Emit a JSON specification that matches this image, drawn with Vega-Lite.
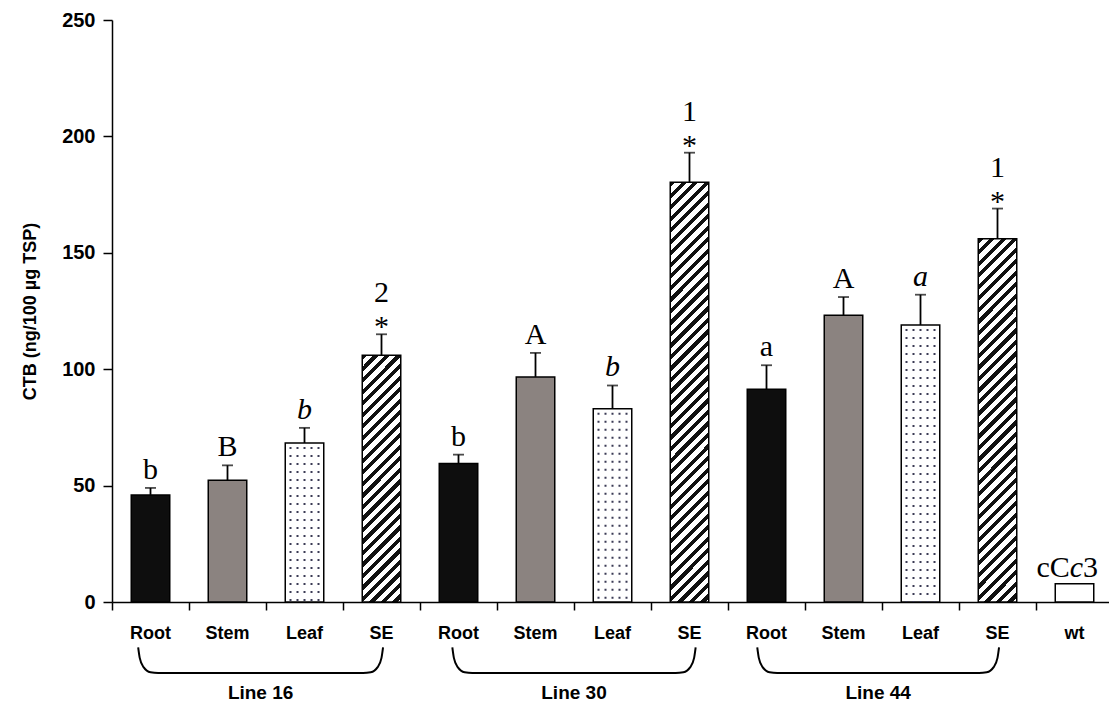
{
  "$schema": "https://vega.github.io/schema/vega-lite/v6.json",
  "width": 1001,
  "height": 582,
  "autosize": {"type": "none"},
  "padding": {"left": 112, "top": 20, "right": 0, "bottom": 103},
  "background": "white",
  "config": {
    "view": {"stroke": null},
    "font": "Liberation Sans",
    "axis": {
      "domainColor": "black", "domainWidth": 1.5,
      "tickColor": "black", "tickWidth": 1.5,
      "labelColor": "black", "labelFont": "Liberation Sans", "labelFontWeight": "bold",
      "titleColor": "black", "titleFont": "Liberation Sans", "titleFontWeight": "bold",
      "grid": false
    }
  },
  "datasets": {
    "bars": [
      {"key": "Root 16", "organ": "Root", "line": "Line 16", "value": 46, "upper": 49, "lab": "b"},
      {"key": "Stem 16", "organ": "Stem", "line": "Line 16", "value": 52.3, "upper": 58.7, "lab": "B"},
      {"key": "Leaf 16", "organ": "Leaf", "line": "Line 16", "value": 68.3, "upper": 74.8, "lab": "b"},
      {"key": "SE 16", "organ": "SE", "line": "Line 16", "value": 106, "upper": 115, "lab": "2"},
      {"key": "Root 30", "organ": "Root", "line": "Line 30", "value": 59.5, "upper": 63.3, "lab": "b"},
      {"key": "Stem 30", "organ": "Stem", "line": "Line 30", "value": 96.7, "upper": 107, "lab": "A"},
      {"key": "Leaf 30", "organ": "Leaf", "line": "Line 30", "value": 83, "upper": 93, "lab": "b"},
      {"key": "SE 30", "organ": "SE", "line": "Line 30", "value": 180.3, "upper": 193, "lab": "1"},
      {"key": "Root 44", "organ": "Root", "line": "Line 44", "value": 91.4, "upper": 101.7, "lab": "a"},
      {"key": "Stem 44", "organ": "Stem", "line": "Line 44", "value": 123.2, "upper": 131, "lab": "A"},
      {"key": "Leaf 44", "organ": "Leaf", "line": "Line 44", "value": 119, "upper": 132, "lab": "a"},
      {"key": "SE 44", "organ": "SE", "line": "Line 44", "value": 156, "upper": 169, "lab": "1"},
      {"key": "wt", "organ": "wt", "line": "wt", "value": 7.8, "upper": 7.8, "lab": "cCc3"}
    ],
    "brackets": [
      {"grp": "Line 16", "pos": 0.34, "value": -19.5},
      {"grp": "Line 16", "pos": 0.36, "value": -24},
      {"grp": "Line 16", "pos": 0.41, "value": -28},
      {"grp": "Line 16", "pos": 0.50, "value": -30.2},
      {"grp": "Line 16", "pos": 0.60, "value": -30.5},
      {"grp": "Line 16", "pos": 3.26, "value": -30.5},
      {"grp": "Line 16", "pos": 3.36, "value": -30.2},
      {"grp": "Line 16", "pos": 3.45, "value": -28},
      {"grp": "Line 16", "pos": 3.50, "value": -24},
      {"grp": "Line 16", "pos": 3.52, "value": -19.5},
      {"grp": "Line 30", "pos": 4.42, "value": -19.5},
      {"grp": "Line 30", "pos": 4.44, "value": -24},
      {"grp": "Line 30", "pos": 4.49, "value": -28},
      {"grp": "Line 30", "pos": 4.58, "value": -30.2},
      {"grp": "Line 30", "pos": 4.68, "value": -30.5},
      {"grp": "Line 30", "pos": 7.32, "value": -30.5},
      {"grp": "Line 30", "pos": 7.42, "value": -30.2},
      {"grp": "Line 30", "pos": 7.51, "value": -28},
      {"grp": "Line 30", "pos": 7.56, "value": -24},
      {"grp": "Line 30", "pos": 7.58, "value": -19.5},
      {"grp": "Line 44", "pos": 8.38, "value": -19.5},
      {"grp": "Line 44", "pos": 8.40, "value": -24},
      {"grp": "Line 44", "pos": 8.45, "value": -28},
      {"grp": "Line 44", "pos": 8.54, "value": -30.2},
      {"grp": "Line 44", "pos": 8.64, "value": -30.5},
      {"grp": "Line 44", "pos": 11.26, "value": -30.5},
      {"grp": "Line 44", "pos": 11.36, "value": -30.2},
      {"grp": "Line 44", "pos": 11.45, "value": -28},
      {"grp": "Line 44", "pos": 11.50, "value": -24},
      {"grp": "Line 44", "pos": 11.52, "value": -19.5}
    ],
    "groups": [
      {"grp": "Line 16", "pos": 1.93},
      {"grp": "Line 30", "pos": 6.0},
      {"grp": "Line 44", "pos": 9.95}
    ]
  },
  "layer": [
    {
      "data": {"name": "bars"},
      "encoding": {
        "x": {
          "field": "key", "type": "nominal", "sort": null,
          "scale": {
            "domain": ["Root 16", "Stem 16", "Leaf 16", "SE 16", "Root 30", "Stem 30", "Leaf 30", "SE 30", "Root 44", "Stem 44", "Leaf 44", "SE 44", "wt"],
            "paddingInner": 0, "paddingOuter": 0
          },
          "axis": {
            "title": null, "labelAngle": 0, "labelExpr": "split(datum.label, ' ')[0]",
            "bandPosition": 0, "tickSize": 8, "labelPadding": 14, "labelFontSize": 18
          }
        },
        "y": {
          "field": "value", "type": "quantitative", "title": "CTB (ng/100 µg TSP)",
          "scale": {"domain": [0, 250], "nice": false},
          "axis": {
            "values": [0, 50, 100, 150, 200, 250], "tickSize": 9, "labelPadding": 8,
            "labelFontSize": 20, "titleFontSize": 18, "titlePadding": 22
          }
        }
      },
      "layer": [
        {
          "transform": [{"filter": "datum.organ != 'SE'"}],
          "mark": {"type": "bar", "width": {"band": 0.5}, "stroke": "black", "strokeWidth": 1.5},
          "encoding": {
            "fill": {
              "field": "organ", "type": "nominal", "legend": null,
              "scale": {"domain": ["Root", "Stem", "Leaf", "wt"], "range": ["#0e0e0e", "#8b8380", "#ffffff", "#ffffff"]}
            }
          }
        },
        {
          "transform": [{"filter": "datum.key == 'SE 16'"}],
          "mark": {
            "type": "bar", "width": {"band": 0.5}, "stroke": "black", "strokeWidth": 1.5,
            "fill": {
              "gradient": "linear", "x1": 0, "y1": 0, "x2": 0.285, "y2": 1.823,
              "stops": [
                {"offset":0,"color":"#111"},{"offset":0.0115,"color":"#111"},{"offset":0.0115,"color":"#fff"},{"offset":0.025,"color":"#fff"},
                {"offset":0.025,"color":"#111"},{"offset":0.0365,"color":"#111"},{"offset":0.0365,"color":"#fff"},{"offset":0.05,"color":"#fff"},
                {"offset":0.05,"color":"#111"},{"offset":0.0615,"color":"#111"},{"offset":0.0615,"color":"#fff"},{"offset":0.075,"color":"#fff"},
                {"offset":0.075,"color":"#111"},{"offset":0.0865,"color":"#111"},{"offset":0.0865,"color":"#fff"},{"offset":0.1,"color":"#fff"},
                {"offset":0.1,"color":"#111"},{"offset":0.1115,"color":"#111"},{"offset":0.1115,"color":"#fff"},{"offset":0.125,"color":"#fff"},
                {"offset":0.125,"color":"#111"},{"offset":0.1365,"color":"#111"},{"offset":0.1365,"color":"#fff"},{"offset":0.15,"color":"#fff"},
                {"offset":0.15,"color":"#111"},{"offset":0.1615,"color":"#111"},{"offset":0.1615,"color":"#fff"},{"offset":0.175,"color":"#fff"},
                {"offset":0.175,"color":"#111"},{"offset":0.1865,"color":"#111"},{"offset":0.1865,"color":"#fff"},{"offset":0.2,"color":"#fff"},
                {"offset":0.2,"color":"#111"},{"offset":0.2115,"color":"#111"},{"offset":0.2115,"color":"#fff"},{"offset":0.225,"color":"#fff"},
                {"offset":0.225,"color":"#111"},{"offset":0.2365,"color":"#111"},{"offset":0.2365,"color":"#fff"},{"offset":0.25,"color":"#fff"},
                {"offset":0.25,"color":"#111"},{"offset":0.2615,"color":"#111"},{"offset":0.2615,"color":"#fff"},{"offset":0.275,"color":"#fff"},
                {"offset":0.275,"color":"#111"},{"offset":0.2865,"color":"#111"},{"offset":0.2865,"color":"#fff"},{"offset":0.3,"color":"#fff"},
                {"offset":0.3,"color":"#111"},{"offset":0.3115,"color":"#111"},{"offset":0.3115,"color":"#fff"},{"offset":0.325,"color":"#fff"},
                {"offset":0.325,"color":"#111"},{"offset":0.3365,"color":"#111"},{"offset":0.3365,"color":"#fff"},{"offset":0.35,"color":"#fff"},
                {"offset":0.35,"color":"#111"},{"offset":0.3615,"color":"#111"},{"offset":0.3615,"color":"#fff"},{"offset":0.375,"color":"#fff"},
                {"offset":0.375,"color":"#111"},{"offset":0.3865,"color":"#111"},{"offset":0.3865,"color":"#fff"},{"offset":0.4,"color":"#fff"},
                {"offset":0.4,"color":"#111"},{"offset":0.4115,"color":"#111"},{"offset":0.4115,"color":"#fff"},{"offset":0.425,"color":"#fff"},
                {"offset":0.425,"color":"#111"},{"offset":0.4365,"color":"#111"},{"offset":0.4365,"color":"#fff"},{"offset":0.45,"color":"#fff"},
                {"offset":0.45,"color":"#111"},{"offset":0.4615,"color":"#111"},{"offset":0.4615,"color":"#fff"},{"offset":0.475,"color":"#fff"},
                {"offset":0.475,"color":"#111"},{"offset":0.4865,"color":"#111"},{"offset":0.4865,"color":"#fff"},{"offset":0.5,"color":"#fff"},
                {"offset":0.5,"color":"#111"},{"offset":0.5115,"color":"#111"},{"offset":0.5115,"color":"#fff"},{"offset":0.525,"color":"#fff"},
                {"offset":0.525,"color":"#111"},{"offset":0.5365,"color":"#111"},{"offset":0.5365,"color":"#fff"},{"offset":0.55,"color":"#fff"},
                {"offset":0.55,"color":"#111"},{"offset":0.5615,"color":"#111"},{"offset":0.5615,"color":"#fff"},{"offset":0.575,"color":"#fff"},
                {"offset":0.575,"color":"#111"},{"offset":0.5865,"color":"#111"},{"offset":0.5865,"color":"#fff"},{"offset":0.6,"color":"#fff"},
                {"offset":0.6,"color":"#111"},{"offset":0.6115,"color":"#111"},{"offset":0.6115,"color":"#fff"},{"offset":0.625,"color":"#fff"},
                {"offset":0.625,"color":"#111"},{"offset":0.6365,"color":"#111"},{"offset":0.6365,"color":"#fff"},{"offset":0.65,"color":"#fff"}
              ]
            }
          }
        },
        {
          "transform": [{"filter": "datum.key == 'SE 30'"}],
          "mark": {
            "type": "bar", "width": {"band": 0.5}, "stroke": "black", "strokeWidth": 1.5,
            "fill": {
              "gradient": "linear", "x1": 0, "y1": 0, "x2": 0.1, "y2": 1.0887,
              "stops": [
                {"offset":0,"color":"#111"},{"offset":0.0115,"color":"#111"},{"offset":0.0115,"color":"#fff"},{"offset":0.025,"color":"#fff"},
                {"offset":0.025,"color":"#111"},{"offset":0.0365,"color":"#111"},{"offset":0.0365,"color":"#fff"},{"offset":0.05,"color":"#fff"},
                {"offset":0.05,"color":"#111"},{"offset":0.0615,"color":"#111"},{"offset":0.0615,"color":"#fff"},{"offset":0.075,"color":"#fff"},
                {"offset":0.075,"color":"#111"},{"offset":0.0865,"color":"#111"},{"offset":0.0865,"color":"#fff"},{"offset":0.1,"color":"#fff"},
                {"offset":0.1,"color":"#111"},{"offset":0.1115,"color":"#111"},{"offset":0.1115,"color":"#fff"},{"offset":0.125,"color":"#fff"},
                {"offset":0.125,"color":"#111"},{"offset":0.1365,"color":"#111"},{"offset":0.1365,"color":"#fff"},{"offset":0.15,"color":"#fff"},
                {"offset":0.15,"color":"#111"},{"offset":0.1615,"color":"#111"},{"offset":0.1615,"color":"#fff"},{"offset":0.175,"color":"#fff"},
                {"offset":0.175,"color":"#111"},{"offset":0.1865,"color":"#111"},{"offset":0.1865,"color":"#fff"},{"offset":0.2,"color":"#fff"},
                {"offset":0.2,"color":"#111"},{"offset":0.2115,"color":"#111"},{"offset":0.2115,"color":"#fff"},{"offset":0.225,"color":"#fff"},
                {"offset":0.225,"color":"#111"},{"offset":0.2365,"color":"#111"},{"offset":0.2365,"color":"#fff"},{"offset":0.25,"color":"#fff"},
                {"offset":0.25,"color":"#111"},{"offset":0.2615,"color":"#111"},{"offset":0.2615,"color":"#fff"},{"offset":0.275,"color":"#fff"},
                {"offset":0.275,"color":"#111"},{"offset":0.2865,"color":"#111"},{"offset":0.2865,"color":"#fff"},{"offset":0.3,"color":"#fff"},
                {"offset":0.3,"color":"#111"},{"offset":0.3115,"color":"#111"},{"offset":0.3115,"color":"#fff"},{"offset":0.325,"color":"#fff"},
                {"offset":0.325,"color":"#111"},{"offset":0.3365,"color":"#111"},{"offset":0.3365,"color":"#fff"},{"offset":0.35,"color":"#fff"},
                {"offset":0.35,"color":"#111"},{"offset":0.3615,"color":"#111"},{"offset":0.3615,"color":"#fff"},{"offset":0.375,"color":"#fff"},
                {"offset":0.375,"color":"#111"},{"offset":0.3865,"color":"#111"},{"offset":0.3865,"color":"#fff"},{"offset":0.4,"color":"#fff"},
                {"offset":0.4,"color":"#111"},{"offset":0.4115,"color":"#111"},{"offset":0.4115,"color":"#fff"},{"offset":0.425,"color":"#fff"},
                {"offset":0.425,"color":"#111"},{"offset":0.4365,"color":"#111"},{"offset":0.4365,"color":"#fff"},{"offset":0.45,"color":"#fff"},
                {"offset":0.45,"color":"#111"},{"offset":0.4615,"color":"#111"},{"offset":0.4615,"color":"#fff"},{"offset":0.475,"color":"#fff"},
                {"offset":0.475,"color":"#111"},{"offset":0.4865,"color":"#111"},{"offset":0.4865,"color":"#fff"},{"offset":0.5,"color":"#fff"},
                {"offset":0.5,"color":"#111"},{"offset":0.5115,"color":"#111"},{"offset":0.5115,"color":"#fff"},{"offset":0.525,"color":"#fff"},
                {"offset":0.525,"color":"#111"},{"offset":0.5365,"color":"#111"},{"offset":0.5365,"color":"#fff"},{"offset":0.55,"color":"#fff"},
                {"offset":0.55,"color":"#111"},{"offset":0.5615,"color":"#111"},{"offset":0.5615,"color":"#fff"},{"offset":0.575,"color":"#fff"},
                {"offset":0.575,"color":"#111"},{"offset":0.5865,"color":"#111"},{"offset":0.5865,"color":"#fff"},{"offset":0.6,"color":"#fff"},
                {"offset":0.6,"color":"#111"},{"offset":0.6115,"color":"#111"},{"offset":0.6115,"color":"#fff"},{"offset":0.625,"color":"#fff"},
                {"offset":0.625,"color":"#111"},{"offset":0.6365,"color":"#111"},{"offset":0.6365,"color":"#fff"},{"offset":0.65,"color":"#fff"},
                {"offset":0.65,"color":"#111"},{"offset":0.6615,"color":"#111"},{"offset":0.6615,"color":"#fff"},{"offset":0.675,"color":"#fff"},
                {"offset":0.675,"color":"#111"},{"offset":0.6865,"color":"#111"},{"offset":0.6865,"color":"#fff"},{"offset":0.7,"color":"#fff"},
                {"offset":0.7,"color":"#111"},{"offset":0.7115,"color":"#111"},{"offset":0.7115,"color":"#fff"},{"offset":0.725,"color":"#fff"},
                {"offset":0.725,"color":"#111"},{"offset":0.7365,"color":"#111"},{"offset":0.7365,"color":"#fff"},{"offset":0.75,"color":"#fff"},
                {"offset":0.75,"color":"#111"},{"offset":0.7615,"color":"#111"},{"offset":0.7615,"color":"#fff"},{"offset":0.775,"color":"#fff"},
                {"offset":0.775,"color":"#111"},{"offset":0.7865,"color":"#111"},{"offset":0.7865,"color":"#fff"},{"offset":0.8,"color":"#fff"},
                {"offset":0.8,"color":"#111"},{"offset":0.8115,"color":"#111"},{"offset":0.8115,"color":"#fff"},{"offset":0.825,"color":"#fff"},
                {"offset":0.825,"color":"#111"},{"offset":0.8365,"color":"#111"},{"offset":0.8365,"color":"#fff"},{"offset":0.85,"color":"#fff"},
                {"offset":0.85,"color":"#111"},{"offset":0.8615,"color":"#111"},{"offset":0.8615,"color":"#fff"},{"offset":0.875,"color":"#fff"},
                {"offset":0.875,"color":"#111"},{"offset":0.8865,"color":"#111"},{"offset":0.8865,"color":"#fff"},{"offset":0.9,"color":"#fff"},
                {"offset":0.9,"color":"#111"},{"offset":0.9115,"color":"#111"},{"offset":0.9115,"color":"#fff"},{"offset":0.925,"color":"#fff"},
                {"offset":0.925,"color":"#111"},{"offset":0.9365,"color":"#111"},{"offset":0.9365,"color":"#fff"},{"offset":0.95,"color":"#fff"},
                {"offset":0.95,"color":"#111"},{"offset":0.9615,"color":"#111"},{"offset":0.9615,"color":"#fff"},{"offset":0.975,"color":"#fff"},
                {"offset":0.975,"color":"#111"},{"offset":0.9865,"color":"#111"},{"offset":0.9865,"color":"#fff"},{"offset":1,"color":"#fff"}
              ]
            }
          }
        },
        {
          "transform": [{"filter": "datum.key == 'SE 44'"}],
          "mark": {
            "type": "bar", "width": {"band": 0.5}, "stroke": "black", "strokeWidth": 1.5,
            "fill": {
              "gradient": "linear", "x1": 0, "y1": 0, "x2": 0.1333, "y2": 1.2548,
              "stops": [
                {"offset":0,"color":"#111"},{"offset":0.0115,"color":"#111"},{"offset":0.0115,"color":"#fff"},{"offset":0.025,"color":"#fff"},
                {"offset":0.025,"color":"#111"},{"offset":0.0365,"color":"#111"},{"offset":0.0365,"color":"#fff"},{"offset":0.05,"color":"#fff"},
                {"offset":0.05,"color":"#111"},{"offset":0.0615,"color":"#111"},{"offset":0.0615,"color":"#fff"},{"offset":0.075,"color":"#fff"},
                {"offset":0.075,"color":"#111"},{"offset":0.0865,"color":"#111"},{"offset":0.0865,"color":"#fff"},{"offset":0.1,"color":"#fff"},
                {"offset":0.1,"color":"#111"},{"offset":0.1115,"color":"#111"},{"offset":0.1115,"color":"#fff"},{"offset":0.125,"color":"#fff"},
                {"offset":0.125,"color":"#111"},{"offset":0.1365,"color":"#111"},{"offset":0.1365,"color":"#fff"},{"offset":0.15,"color":"#fff"},
                {"offset":0.15,"color":"#111"},{"offset":0.1615,"color":"#111"},{"offset":0.1615,"color":"#fff"},{"offset":0.175,"color":"#fff"},
                {"offset":0.175,"color":"#111"},{"offset":0.1865,"color":"#111"},{"offset":0.1865,"color":"#fff"},{"offset":0.2,"color":"#fff"},
                {"offset":0.2,"color":"#111"},{"offset":0.2115,"color":"#111"},{"offset":0.2115,"color":"#fff"},{"offset":0.225,"color":"#fff"},
                {"offset":0.225,"color":"#111"},{"offset":0.2365,"color":"#111"},{"offset":0.2365,"color":"#fff"},{"offset":0.25,"color":"#fff"},
                {"offset":0.25,"color":"#111"},{"offset":0.2615,"color":"#111"},{"offset":0.2615,"color":"#fff"},{"offset":0.275,"color":"#fff"},
                {"offset":0.275,"color":"#111"},{"offset":0.2865,"color":"#111"},{"offset":0.2865,"color":"#fff"},{"offset":0.3,"color":"#fff"},
                {"offset":0.3,"color":"#111"},{"offset":0.3115,"color":"#111"},{"offset":0.3115,"color":"#fff"},{"offset":0.325,"color":"#fff"},
                {"offset":0.325,"color":"#111"},{"offset":0.3365,"color":"#111"},{"offset":0.3365,"color":"#fff"},{"offset":0.35,"color":"#fff"},
                {"offset":0.35,"color":"#111"},{"offset":0.3615,"color":"#111"},{"offset":0.3615,"color":"#fff"},{"offset":0.375,"color":"#fff"},
                {"offset":0.375,"color":"#111"},{"offset":0.3865,"color":"#111"},{"offset":0.3865,"color":"#fff"},{"offset":0.4,"color":"#fff"},
                {"offset":0.4,"color":"#111"},{"offset":0.4115,"color":"#111"},{"offset":0.4115,"color":"#fff"},{"offset":0.425,"color":"#fff"},
                {"offset":0.425,"color":"#111"},{"offset":0.4365,"color":"#111"},{"offset":0.4365,"color":"#fff"},{"offset":0.45,"color":"#fff"},
                {"offset":0.45,"color":"#111"},{"offset":0.4615,"color":"#111"},{"offset":0.4615,"color":"#fff"},{"offset":0.475,"color":"#fff"},
                {"offset":0.475,"color":"#111"},{"offset":0.4865,"color":"#111"},{"offset":0.4865,"color":"#fff"},{"offset":0.5,"color":"#fff"},
                {"offset":0.5,"color":"#111"},{"offset":0.5115,"color":"#111"},{"offset":0.5115,"color":"#fff"},{"offset":0.525,"color":"#fff"},
                {"offset":0.525,"color":"#111"},{"offset":0.5365,"color":"#111"},{"offset":0.5365,"color":"#fff"},{"offset":0.55,"color":"#fff"},
                {"offset":0.55,"color":"#111"},{"offset":0.5615,"color":"#111"},{"offset":0.5615,"color":"#fff"},{"offset":0.575,"color":"#fff"},
                {"offset":0.575,"color":"#111"},{"offset":0.5865,"color":"#111"},{"offset":0.5865,"color":"#fff"},{"offset":0.6,"color":"#fff"},
                {"offset":0.6,"color":"#111"},{"offset":0.6115,"color":"#111"},{"offset":0.6115,"color":"#fff"},{"offset":0.625,"color":"#fff"},
                {"offset":0.625,"color":"#111"},{"offset":0.6365,"color":"#111"},{"offset":0.6365,"color":"#fff"},{"offset":0.65,"color":"#fff"},
                {"offset":0.65,"color":"#111"},{"offset":0.6615,"color":"#111"},{"offset":0.6615,"color":"#fff"},{"offset":0.675,"color":"#fff"},
                {"offset":0.675,"color":"#111"},{"offset":0.6865,"color":"#111"},{"offset":0.6865,"color":"#fff"},{"offset":0.7,"color":"#fff"},
                {"offset":0.7,"color":"#111"},{"offset":0.7115,"color":"#111"},{"offset":0.7115,"color":"#fff"},{"offset":0.725,"color":"#fff"},
                {"offset":0.725,"color":"#111"},{"offset":0.7365,"color":"#111"},{"offset":0.7365,"color":"#fff"},{"offset":0.75,"color":"#fff"},
                {"offset":0.75,"color":"#111"},{"offset":0.7615,"color":"#111"},{"offset":0.7615,"color":"#fff"},{"offset":0.775,"color":"#fff"},
                {"offset":0.775,"color":"#111"},{"offset":0.7865,"color":"#111"},{"offset":0.7865,"color":"#fff"},{"offset":0.8,"color":"#fff"},
                {"offset":0.8,"color":"#111"},{"offset":0.8115,"color":"#111"},{"offset":0.8115,"color":"#fff"},{"offset":0.825,"color":"#fff"},
                {"offset":0.825,"color":"#111"},{"offset":0.8365,"color":"#111"},{"offset":0.8365,"color":"#fff"},{"offset":0.85,"color":"#fff"},
                {"offset":0.85,"color":"#111"},{"offset":0.8615,"color":"#111"},{"offset":0.8615,"color":"#fff"},{"offset":0.875,"color":"#fff"},
                {"offset":0.875,"color":"#111"},{"offset":0.8865,"color":"#111"},{"offset":0.8865,"color":"#fff"},{"offset":0.9,"color":"#fff"}
              ]
            }
          }
        },
        {
          "transform": [{"filter": "datum.organ == 'Leaf'"}],
          "mark": {"type": "rule", "xOffset": -14, "strokeDash": [2, 6], "strokeDashOffset": 4, "strokeWidth": 2, "color": "#3b3b55"},
          "encoding": {"y2": {"datum": 0}}
        },
        {
          "transform": [{"filter": "datum.organ == 'Leaf'"}],
          "mark": {"type": "rule", "xOffset": -7, "strokeDash": [2, 6], "strokeDashOffset": 4, "strokeWidth": 2, "color": "#3b3b55"},
          "encoding": {"y2": {"datum": 0}}
        },
        {
          "transform": [{"filter": "datum.organ == 'Leaf'"}],
          "mark": {"type": "rule", "xOffset": 0, "strokeDash": [2, 6], "strokeDashOffset": 4, "strokeWidth": 2, "color": "#3b3b55"},
          "encoding": {"y2": {"datum": 0}}
        },
        {
          "transform": [{"filter": "datum.organ == 'Leaf'"}],
          "mark": {"type": "rule", "xOffset": 7, "strokeDash": [2, 6], "strokeDashOffset": 4, "strokeWidth": 2, "color": "#3b3b55"},
          "encoding": {"y2": {"datum": 0}}
        },
        {
          "transform": [{"filter": "datum.organ == 'Leaf'"}],
          "mark": {"type": "rule", "xOffset": 14, "strokeDash": [2, 6], "strokeDashOffset": 4, "strokeWidth": 2, "color": "#3b3b55"},
          "encoding": {"y2": {"datum": 0}}
        },
        {
          "transform": [{"filter": "datum.organ != 'wt'"}],
          "mark": {"type": "rule", "color": "black", "strokeWidth": 1.8},
          "encoding": {"y2": {"field": "upper"}}
        },
        {
          "transform": [{"filter": "datum.organ != 'wt'"}],
          "mark": {"type": "tick", "color": "black", "thickness": 1.8, "size": 11},
          "encoding": {
            "y": {"field": "upper", "type": "quantitative", "title": "CTB (ng/100 µg TSP)", "scale": {"domain": [0, 250], "nice": false}}
          }
        },
        {
          "transform": [{"filter": "datum.organ == 'Root' || datum.organ == 'Stem'"}],
          "mark": {"type": "text", "font": "Liberation Serif", "fontSize": 30, "baseline": "alphabetic", "dy": -9, "color": "black"},
          "encoding": {
            "y": {"field": "upper", "type": "quantitative", "title": "CTB (ng/100 µg TSP)", "scale": {"domain": [0, 250], "nice": false}},
            "text": {"field": "lab"}
          }
        },
        {
          "transform": [{"filter": "datum.organ == 'Leaf'"}],
          "mark": {"type": "text", "font": "Liberation Serif", "fontSize": 30, "fontStyle": "italic", "baseline": "alphabetic", "dy": -9, "color": "black"},
          "encoding": {
            "y": {"field": "upper", "type": "quantitative", "title": "CTB (ng/100 µg TSP)", "scale": {"domain": [0, 250], "nice": false}},
            "text": {"field": "lab"}
          }
        },
        {
          "transform": [{"filter": "datum.organ == 'SE'"}],
          "mark": {"type": "text", "text": "*", "font": "Liberation Serif", "fontSize": 30, "baseline": "alphabetic", "dy": 2, "color": "black"},
          "encoding": {
            "y": {"field": "upper", "type": "quantitative", "title": "CTB (ng/100 µg TSP)", "scale": {"domain": [0, 250], "nice": false}}
          }
        },
        {
          "transform": [{"filter": "datum.organ == 'SE'"}],
          "mark": {"type": "text", "font": "Liberation Serif", "fontSize": 30, "baseline": "alphabetic", "dy": -32, "color": "black"},
          "encoding": {
            "y": {"field": "upper", "type": "quantitative", "title": "CTB (ng/100 µg TSP)", "scale": {"domain": [0, 250], "nice": false}},
            "text": {"field": "lab"}
          }
        },
        {
          "transform": [{"filter": "datum.organ == 'wt'"}],
          "mark": {"type": "text", "text": "cC", "align": "left", "dx": -38, "font": "Liberation Serif", "fontSize": 30, "baseline": "alphabetic", "dy": -7, "color": "black"},
          "encoding": {
            "y": {"field": "upper", "type": "quantitative", "title": "CTB (ng/100 µg TSP)", "scale": {"domain": [0, 250], "nice": false}}
          }
        },
        {
          "transform": [{"filter": "datum.organ == 'wt'"}],
          "mark": {"type": "text", "text": "c", "align": "left", "dx": -4.7, "font": "Liberation Serif", "fontStyle": "italic", "fontSize": 30, "baseline": "alphabetic", "dy": -7, "color": "black"},
          "encoding": {
            "y": {"field": "upper", "type": "quantitative", "title": "CTB (ng/100 µg TSP)", "scale": {"domain": [0, 250], "nice": false}}
          }
        },
        {
          "transform": [{"filter": "datum.organ == 'wt'"}],
          "mark": {"type": "text", "text": "3", "align": "left", "dx": 8.6, "font": "Liberation Serif", "fontSize": 30, "baseline": "alphabetic", "dy": -7, "color": "black"},
          "encoding": {
            "y": {"field": "upper", "type": "quantitative", "title": "CTB (ng/100 µg TSP)", "scale": {"domain": [0, 250], "nice": false}}
          }
        }
      ]
    },
    {
      "data": {"name": "brackets"},
      "mark": {"type": "line", "interpolate": "monotone", "color": "black", "strokeWidth": 2},
      "encoding": {
        "x": {"field": "pos", "type": "quantitative", "scale": {"domain": [0, 13], "nice": false, "zero": false}, "axis": null},
        "y": {"field": "value", "type": "quantitative", "title": "CTB (ng/100 µg TSP)", "scale": {"domain": [0, 250], "nice": false}},
        "detail": {"field": "grp"}
      }
    },
    {
      "data": {"name": "groups"},
      "mark": {"type": "text", "font": "Liberation Sans", "fontWeight": "bold", "fontSize": 19, "baseline": "middle", "color": "black"},
      "encoding": {
        "x": {"field": "pos", "type": "quantitative", "scale": {"domain": [0, 13], "nice": false, "zero": false}, "axis": null},
        "y": {"datum": -39, "type": "quantitative", "title": "CTB (ng/100 µg TSP)", "scale": {"domain": [0, 250], "nice": false}},
        "text": {"field": "grp"}
      }
    }
  ],
  "resolve": {"scale": {"x": "independent"}, "axis": {"x": "independent"}}
}
